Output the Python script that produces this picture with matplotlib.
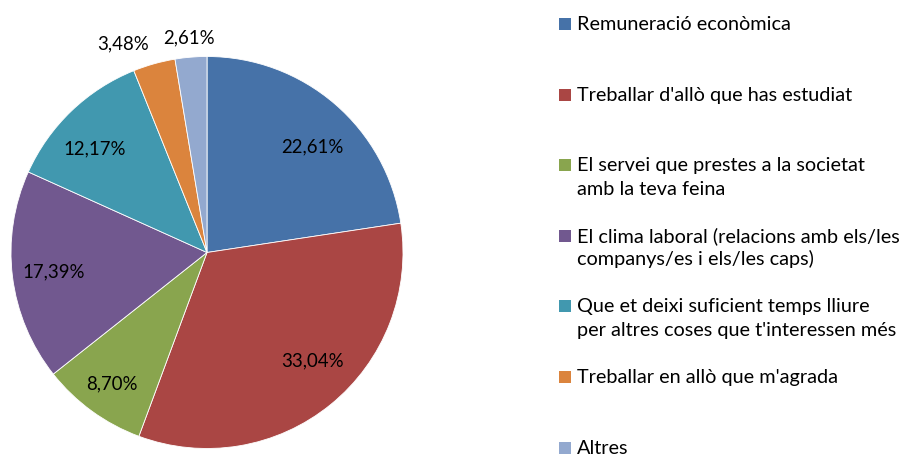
import numpy as np
import matplotlib
matplotlib.use('Agg')
import matplotlib.pyplot as plt
from matplotlib.patches import Rectangle

plt.rcParams['font.family'] = ['Lato', 'DejaVu Sans']

labels = [
    'Remuneració econòmica',
    "Treballar d'allò que has estudiat",
    'El servei que prestes a la societat\namb la teva feina',
    'El clima laboral (relacions amb els/les\ncompanys/es i els/les caps)',
    "Que et deixi suficient temps lliure\nper altres coses que t'interessen més",
    "Treballar en allò que m'agrada",
    'Altres',
]
values = [22.61, 33.04, 8.70, 17.39, 12.17, 3.48, 2.61]
colors = ['#4672A8', '#AA4644', '#89A54E', '#71588F', '#4198AF', '#DB843D', '#93A9CF']
# where each percentage label sits: fraction of radius, and turn (deg) from the wedge middle
label_dist = [0.76, 0.77, 0.83, 0.79, 0.78, 1.15, 1.10]
label_turn = [-4.2, 5.2, 0.0, 0.0, 3.6, 6.3, 0.0]

W, H = 907, 457
fig = plt.figure(figsize=(W / 100, H / 100), dpi=100)

# pie centred at (207, 252) px with radius ~196 px
r_px = 196
cx, cy = 207, 252.5
ax = fig.add_axes([(cx - r_px) / W, (H - cy - r_px) / H, 2 * r_px / W, 2 * r_px / H])
wedges, _ = ax.pie(values, colors=colors, startangle=90, counterclock=False,
                   radius=1.0, wedgeprops=dict(linewidth=0.6, edgecolor='white'))
ax.set_xlim(-1, 1)
ax.set_ylim(-1, 1)
ax.set_aspect('equal')
ax.axis('off')

for w, v, d, t in zip(wedges, values, label_dist, label_turn):
    ang = np.deg2rad((w.theta1 + w.theta2) / 2 + t)
    ax.text(d * np.cos(ang), d * np.sin(ang), f'{v:.2f}%'.replace('.', ','),
            ha='center', va='center', fontsize=13.4, color='black', clip_on=False)

# legend, one entry per slice (baseline of the first line in px from top)
first_base = 30
step = 70.6
line_gap = 23.5
for i, (lab, c) in enumerate(zip(labels, colors)):
    base = first_base + i * step
    fig.patches.append(Rectangle((559 / W, (H - base) / H), 12 / W, 12 / H,
                                 transform=fig.transFigure, facecolor=c, edgecolor='none'))
    for j, line in enumerate(lab.split('\n')):
        fig.text(577 / W, (H - base - j * line_gap) / H, line, ha='left', va='baseline',
                 fontsize=14.3, color='black')

fig.savefig('out.png', dpi=100)
